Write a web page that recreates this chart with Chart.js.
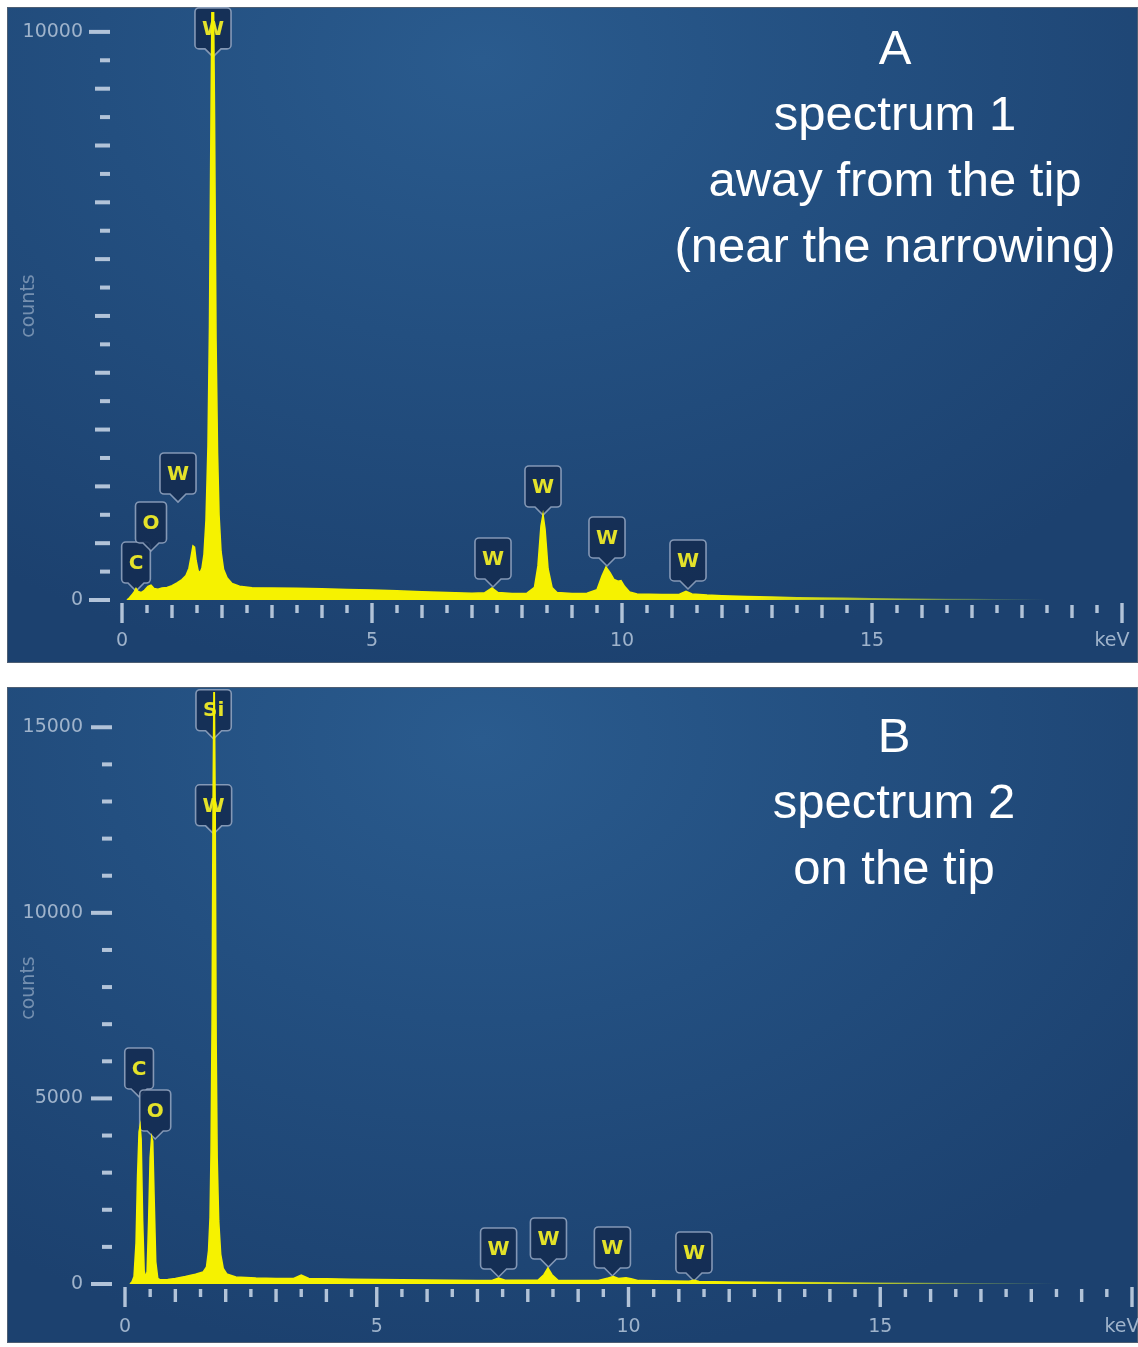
<!DOCTYPE html>
<html><head><meta charset="utf-8">
<script src="https://cdn.jsdelivr.net/npm/chart.js@4.4.0/dist/chart.umd.min.js"></script>
<style>
html,body{margin:0;padding:0;background:#fff;width:1138px;height:1347px;overflow:hidden;}
.panel{position:absolute;left:7px;width:1131px;height:656px;
background: radial-gradient(ellipse 75% 95% at 42% 8%, #2a5b8e 0%, #234f80 45%, #1c416f 100%);
box-shadow: inset 0 0 0 1px #4d5e73;}
#pa{top:7px} #pb{top:687px}
.panel canvas{position:absolute;left:0;top:0}
.caption{position:absolute;width:520px;text-align:center;color:#fff;font-family:"Liberation Sans",Arial,sans-serif;font-size:49px;line-height:66px;}
</style></head>
<body>
<div class="panel" id="pa"><canvas id="ca" width="1131" height="656"></canvas></div>
<div class="panel" id="pb"><canvas id="cb" width="1131" height="656"></canvas></div>
<div class="caption" style="left:635px;top:14px">A<br>spectrum 1<br>away from the tip<br>(near the narrowing)</div>
<div class="caption" style="left:634px;top:702px">B<br>spectrum 2<br>on the tip</div>
<script>
// ---------- data ----------
const energyA = [0.10,0.15,0.20,0.25,0.28,0.32,0.38,0.45,0.52,0.58,0.64,0.72,0.80,0.90,1.00,1.10,1.20,1.28,1.34,1.38,1.42,1.45,1.48,1.52,1.56,1.60,1.64,1.68,1.72,1.75,1.78,1.80,1.83,1.85,1.88,1.91,1.94,1.98,2.03,2.10,2.20,2.35,2.60,3.00,3.50,4.00,4.50,5.00,5.50,6.00,6.50,7.00,7.25,7.40,7.52,7.80,8.10,8.25,8.32,8.38,8.42,8.46,8.52,8.60,8.70,9.00,9.30,9.50,9.60,9.68,9.76,9.84,9.92,9.98,10.05,10.15,10.30,10.80,11.15,11.28,11.40,11.70,12.0,12.5,13.0,13.5,14.0,14.5,15.0,15.5,16.0,16.5,17.0,17.5,18.0,19.0,20.0];
const countsA = [0,40,90,150,200,150,130,170,240,260,200,190,210,220,250,300,360,430,560,750,950,930,700,520,480,560,800,1400,2700,4800,8400,10500,10500,8500,4600,2600,1500,850,540,390,290,240,215,210,205,195,185,175,160,145,130,120,125,210,130,115,120,220,600,1300,1500,1250,550,220,130,115,120,180,420,580,480,360,330,340,240,140,105,95,100,150,105,85,75,60,50,40,35,28,22,18,14,10,7,5,3,1,0];

const energyB = [0.10,0.14,0.18,0.22,0.25,0.28,0.30,0.32,0.35,0.38,0.41,0.44,0.47,0.50,0.53,0.55,0.58,0.61,0.65,0.70,0.85,1.00,1.20,1.40,1.55,1.62,1.66,1.69,1.71,1.73,1.75,1.77,1.79,1.81,1.83,1.86,1.90,1.95,2.02,2.20,2.60,3.00,3.35,3.50,3.65,4.00,4.50,5.00,5.50,6.00,6.50,7.00,7.30,7.42,7.55,8.20,8.32,8.40,8.48,8.60,9.40,9.60,9.70,9.80,9.95,10.05,10.20,11.20,11.30,11.40,12.0,13.0,14.0,15.0,16.0,17.0,18.0,19.0,20.0];
const countsB = [0,60,200,1100,2900,4100,4250,3900,1700,350,170,330,1700,3400,3950,3850,2200,600,150,110,120,150,200,260,320,460,900,1800,3600,7000,13000,16500,13000,6500,3400,1700,800,420,270,190,160,150,150,240,150,140,130,120,110,105,100,95,100,160,100,100,250,430,250,100,95,160,200,150,170,140,90,70,100,65,55,40,30,22,14,8,4,1,0];

// element markers: name, energy (keV), counts at the marker tip
const markNamesA = ['C','O','W','W','W','W','W','W'];
const markEnergyA = [0.28,0.58,1.12,1.82,7.42,8.42,9.70,11.32];
const markTipA = [158,863,1725,9560,229,1496,599,194];

const markNamesB = ['Si','W','C','O','W','W','W','W'];
const markEnergyB = [1.76,1.76,0.28,0.60,7.42,8.41,9.68,11.30];
const markTipB = [14690,12129,5040,3908,189,458,216,81];

// axes
const xTicks = Array.from({length:41},(_,i)=>i*0.5);
const xTickLabels = [0,5,10,15];
const yTicksA = Array.from({length:21},(_,i)=>i*500);
const yTickLabelsA = [0,10000];
const yTicksB = Array.from({length:16},(_,i)=>i*1000);
const yTickLabelsB = [0,5000,10000,15000];

// ---------- styles ----------
const YEL = 'rgb(246,242,0)';
const TICK_COL = '#b2c3d8';
const LABEL_COL = '#9fb3cb';
const FONT = '"DejaVu Sans", Verdana, sans-serif';

function fadeGrad(context){
  const chart = context.chart;
  if(!chart.chartArea) return YEL;
  const x = chart.scales.x;
  const g = chart.ctx.createLinearGradient(x.getPixelForValue(12.5),0,x.getPixelForValue(18.5),0);
  g.addColorStop(0,'rgba(246,242,0,1)');
  g.addColorStop(0.5,'rgba(205,222,40,0.6)');
  g.addColorStop(1,'rgba(150,200,90,0)');
  return g;
}

function markerPath(ctx, cx, tip, w, bodyH, ptr, r){
  const l = cx - w/2, rt = cx + w/2, bot = tip - ptr, top = bot - bodyH;
  ctx.beginPath();
  ctx.moveTo(l + r, top);
  ctx.lineTo(rt - r, top); ctx.arcTo(rt, top, rt, top + r, r);
  ctx.lineTo(rt, bot - r); ctx.arcTo(rt, bot, rt - r, bot, r);
  ctx.lineTo(cx + ptr, bot); ctx.lineTo(cx, tip); ctx.lineTo(cx - ptr, bot);
  ctx.lineTo(l + r, bot); ctx.arcTo(l, bot, l, bot - r, r);
  ctx.lineTo(l, top + r); ctx.arcTo(l, top, l + r, top, r);
  ctx.closePath();
}

const markerPlugin = {
  id:'markers',
  beforeDatasetsDraw(chart, args, opts){
    const {ctx, scales:{x,y}} = chart;
    ctx.save();
    ctx.font = 'bold 20px ' + FONT;
    ctx.textAlign = 'center'; ctx.textBaseline = 'middle';
    opts.names.forEach((n,i)=>{
      const cx = x.getPixelForValue(opts.energy[i]);
      const tip = y.getPixelForValue(opts.tip[i]);
      const w = Math.max(27, ctx.measureText(n).width + 14);
      const bodyH = 41, ptr = 8;
      markerPath(ctx, cx, tip, w, bodyH, ptr, 4);
      ctx.fillStyle = 'rgba(20,44,82,0.9)';
      ctx.fill();
      ctx.strokeStyle = 'rgba(150,168,195,0.85)';
      ctx.lineWidth = 1.6;
      ctx.stroke();
      ctx.fillStyle = '#e4e22a';
      ctx.fillText(n, cx, tip - ptr - bodyH/2 + 1);
    });
    ctx.restore();
  }
};

const tickPlugin = {
  id:'tickmarks',
  afterDraw(chart, args, opts){
    const {ctx, chartArea, scales:{x,y}} = chart;
    ctx.save();
    ctx.fillStyle = TICK_COL;
    xTicks.forEach(v=>{
      const px = x.getPixelForValue(v);
      let a, b;
      if (v % 5 === 0) { a = 3; b = 23; }
      else if (v % 1 === 0) { a = 5; b = 18; }
      else { a = 5; b = 13; }
      ctx.fillRect(px - 1.7, chartArea.bottom + a, 3.4, b - a);
    });
    opts.yTicks.forEach(v=>{
      const py = y.getPixelForValue(v);
      let len;
      if (opts.yLabels.includes(v)) len = 21;
      else if (opts.midEvery && v % opts.midEvery === 0) len = 15;
      else len = 10;
      const right = chartArea.left - opts.gap;
      ctx.fillRect(right - len, py - 2, len, 4);
    });
    // keV unit label
    ctx.fillStyle = LABEL_COL;
    ctx.font = '19px ' + FONT;
    ctx.textAlign = 'center'; ctx.textBaseline = 'middle';
    ctx.fillText('keV', x.getPixelForValue(19.8), chartArea.bottom + opts.xLabPad + 11.4);
    ctx.restore();
  }
};

function makeChart(id, energy, counts, cfg){
  const pts = energy.map((e,i)=>({x:e, y:counts[i]}));
  return new Chart(document.getElementById(id), {
    type:'line',
    data:{datasets:[{data:pts, borderColor:fadeGrad, backgroundColor:fadeGrad, borderWidth:1.6, pointRadius:0, fill:'origin', tension:0}]},
    options:{
      responsive:false, devicePixelRatio:1, animation:false,
      layout:{padding:{left:0, right:cfg.padRight, top:5, bottom:0}},
      plugins:{legend:{display:false}, tooltip:{enabled:false},
        markers:{names:cfg.names, energy:cfg.energy, tip:cfg.tip},
        tickmarks:{yTicks:cfg.yTicks, yLabels:cfg.yLabels, midEvery:cfg.midEvery, gap:cfg.gap, xLabPad:cfg.xLabPad}},
      scales:{
        x:{type:'linear', min:0, max:20,
          grid:{display:false, drawTicks:false}, border:{display:false},
          afterBuildTicks:(s)=>{ s.ticks = xTicks.map(v=>({value:v})); },
          afterFit:(s)=>{ s.height = cfg.xHeight; s.paddingLeft = 0; s.paddingRight = 0; },
          ticks:{autoSkip:false, maxRotation:0, padding:cfg.xLabPad, color:LABEL_COL, font:{family:FONT, size:19},
            callback:(v)=> xTickLabels.includes(v) ? String(v) : null}
        },
        y:{type:'linear', min:0, max:cfg.yMax,
          grid:{display:false, drawTicks:false}, border:{display:false},
          afterBuildTicks:(s)=>{ s.ticks = cfg.yTicks.map(v=>({value:v})); },
          afterFit:(s)=>{ s.width = cfg.yWidth; s.paddingTop = 0; s.paddingBottom = 0; },
          title:{display:true, text:'counts', color:'#7590b0', font:{family:FONT, size:19}, padding:{top:11, bottom:0}},
          ticks:{autoSkip:false, padding:cfg.yLabPad, color:LABEL_COL, font:{family:FONT, size:19},
            callback:(v)=> cfg.yLabels.includes(v) ? String(v) : null}
        }
      }
    },
    plugins:[markerPlugin, tickPlugin]
  });
}

makeChart('ca', energyA, countsA, {
  padRight:16, yWidth:115, xHeight:63, yMax:10350, yLabPad:39, xLabPad:30,
  yTicks:yTicksA, yLabels:yTickLabelsA, midEvery:1000, gap:12,
  names:markNamesA, energy:markEnergyA, tip:markTipA
});
makeChart('cb', energyB, countsB, {
  padRight:6, yWidth:118, xHeight:59, yMax:15950, yLabPad:42, xLabPad:32,
  yTicks:yTicksB, yLabels:yTickLabelsB, midEvery:null, gap:13,
  names:markNamesB, energy:markEnergyB, tip:markTipB
});
</script>
</body></html>
